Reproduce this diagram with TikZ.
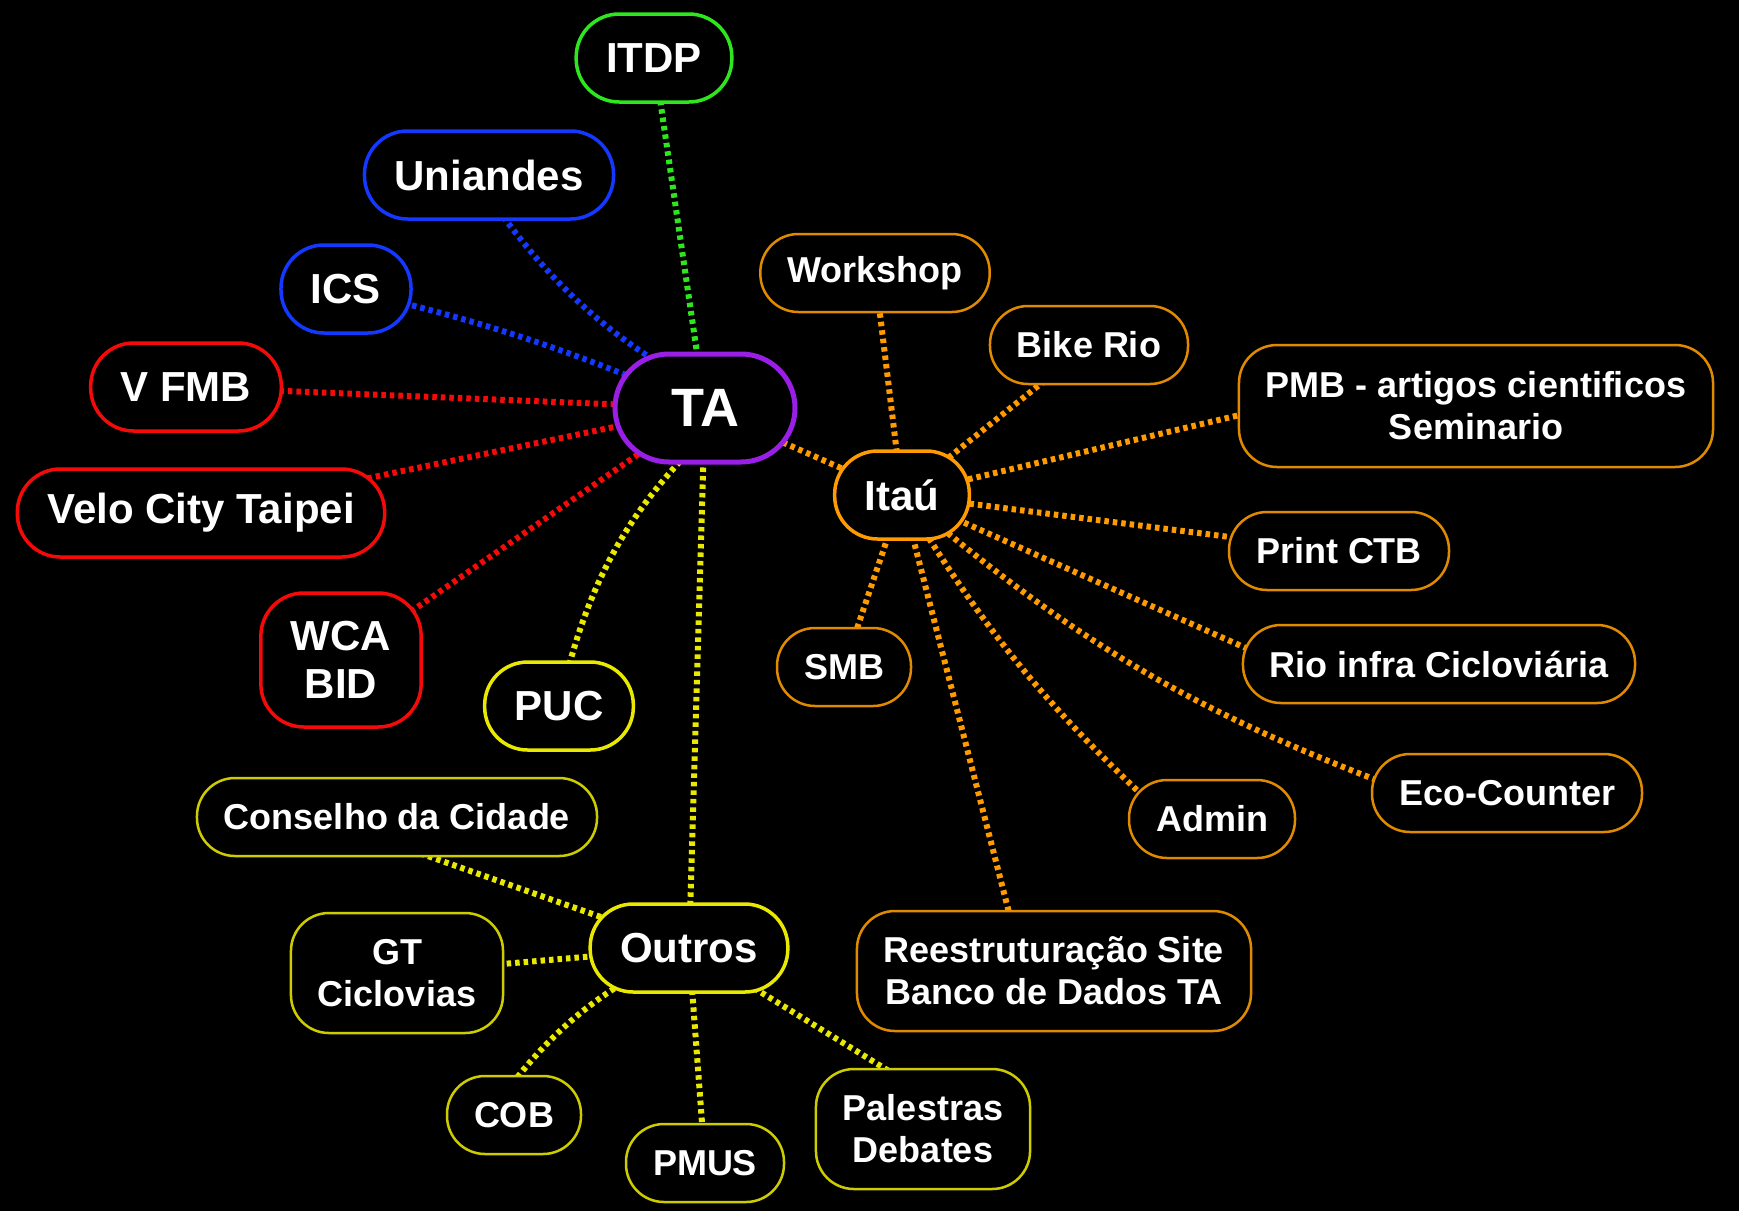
\documentclass[tikz,border=0pt]{standalone}
\usepackage{fontspec}
\setmainfont{Liberation Sans}
\usepackage{tikz}
\pgfdeclarelayer{canvas}
\pgfdeclarelayer{links}
\pgfsetlayers{canvas,links,main}
\definecolor{tagreen}{HTML}{2EE61E}
\definecolor{tablue}{HTML}{1438FF}
\definecolor{tared}{HTML}{F50A0A}
\definecolor{tapurple}{HTML}{9A1FE6}
\definecolor{taorange}{HTML}{FF9A00}
\definecolor{taorangebox}{HTML}{E08A00}
\definecolor{tayellow}{HTML}{E8E800}
\definecolor{tayellowbox}{HTML}{CCCC00}
\tikzset{
  hub/.style={
    rectangle, rounded corners=54pt,
    minimum width=180pt, minimum height=108pt,
    draw=tapurple, line width=5pt, fill=black, text=white,
    font=\fontsize{54}{60}\selectfont\bfseries,
  },
  topic/.style={
    rectangle, rounded corners=43pt,
    inner xsep=30pt, inner ysep=0pt, minimum height=88pt,
    draw=#1, line width=3.5pt, fill=black, text=white, align=center,
    font=\fontsize{42}{48}\selectfont\bfseries,
  },
  leaf/.style={
    rectangle, rounded corners=38pt,
    inner xsep=27pt, inner ysep=0pt, minimum height=78pt,
    draw=#1, line width=2.5pt, fill=black, text=white, align=center,
    font=\fontsize{36}{42}\selectfont\bfseries,
  },
  link/.style={draw=#1, line width=6pt, dash pattern=on 4.5pt off 4pt},
}

\begin{document}
\begin{tikzpicture}[x=1pt, y=-1pt]
  \begin{pgfonlayer}{canvas}
    \path[use as bounding box, fill=black] (0,0) rectangle (1739,1211);
  \end{pgfonlayer}

  \node[hub] (ta) at (705,408) {TA};

  \node[topic=tagreen] (itdp) at (654,58) {ITDP};
  \node[topic=tablue] (uniandes) at (489,175) {Uniandes};
  \node[topic=tablue] (ics) at (346,289) {ICS};
  \node[topic=tared] (vfmb) at (186,387) {V FMB};
  \node[topic=tared] (velo) at (201,513) {Velo City Taipei};
  \node[topic=tared, minimum height=134pt] (wca) at (341,660) {WCA\\BID};
  \node[topic=tayellow] (puc) at (559,706) {PUC};
  \node[topic=taorange] (itau) at (902,495) {Itaú};
  \node[topic=tayellow] (outros) at (689,948) {Outros};

  \node[leaf=taorangebox] (workshop) at (875,273) {Workshop};
  \node[leaf=taorangebox] (bikerio) at (1089,345) {Bike Rio};
  \node[leaf=taorangebox, minimum height=122pt] (pmb) at (1476,406) {PMB - artigos cientificos\\Seminario};
  \node[leaf=taorangebox] (print) at (1339,551) {Print CTB};
  \node[leaf=taorangebox] (rioinfra) at (1439,664) {Rio infra Cicloviária};
  \node[leaf=taorangebox] (eco) at (1507,793) {Eco-Counter};
  \node[leaf=taorangebox] (admin) at (1212,819) {Admin};
  \node[leaf=taorangebox, minimum height=120pt] (site) at (1054,971) {Reestruturação Site\\Banco de Dados TA};
  \node[leaf=taorangebox] (smb) at (844,667) {SMB};

  \node[leaf=tayellowbox] (conselho) at (397,817) {Conselho da Cidade};
  \node[leaf=tayellowbox, minimum height=120pt] (gt) at (397,973) {GT\\Ciclovias};
  \node[leaf=tayellowbox] (cob) at (514,1115) {COB};
  \node[leaf=tayellowbox] (pmus) at (705,1163) {PMUS};
  \node[leaf=tayellowbox, minimum height=120pt] (palestras) at (923,1129) {Palestras\\Debates};

  \begin{pgfonlayer}{links}
    \draw[link=tagreen] (ta.center) -- (itdp.center);
    \draw[link=tablue] ([xshift=-15pt]uniandes.center) to[bend right=15] ([xshift=35pt]ta.center);
    \draw[link=tablue] (ics.center) to[bend left=5] (ta.center);
    \draw[link=tared] (vfmb.center) -- (ta.center);
    \draw[link=tared] (velo.center) -- (ta.center);
    \draw[link=tared] (wca.center) -- (ta.center);
    \draw[link=tayellow] (puc.center) to[bend left=18] ([xshift=30pt]ta.center);
    \draw[link=tayellow] (ta.center) -- (outros.center);
    \draw[link=taorange] (ta.center) -- (itau.center);

    \draw[link=taorange] (itau.center) -- (workshop.center);
    \draw[link=taorange] (itau.center) -- (bikerio.center);
    \draw[link=taorange] (itau.center) -- ([xshift=40pt]pmb.west);
    \draw[link=taorange] (itau.center) -- (print.center);
    \draw[link=taorange] (itau.center) -- ([xshift=40pt]rioinfra.west);
    \draw[link=taorange] (itau.center) to[bend right=10] ([xshift=40pt]eco.west);
    \draw[link=taorange] (itau.center) to[bend right=8] ([xshift=40pt]admin.west);
    \draw[link=taorange] (itau.center) -- ([xshift=-30pt]site.center);
    \draw[link=taorange] (itau.center) -- (smb.center);

    \draw[link=tayellow] (outros.center) -- ([xshift=-80pt]conselho.center);
    \draw[link=tayellow] (outros.center) -- (gt.center);
    \draw[link=tayellow] (outros.center) to[bend right=15] ([xshift=-25pt]cob.center);
    \draw[link=tayellow] (outros.center) -- (pmus.center);
    \draw[link=tayellow] (outros.center) -- ([xshift=60pt]palestras.center);
  \end{pgfonlayer}
\end{tikzpicture}
\end{document}
